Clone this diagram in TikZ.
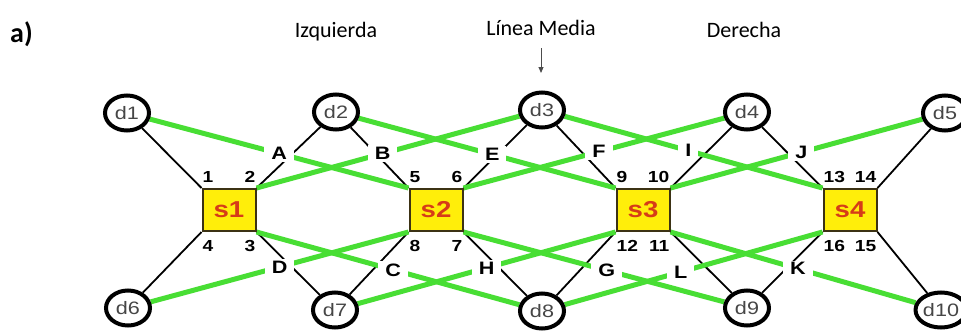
\documentclass[tikz,border=0pt]{standalone}
\usepackage{fontspec}
\setmainfont{Carlito}
\newfontfamily\lab[FakeStretch=1.2]{Liberation Sans}
\usetikzlibrary{shapes.geometric,arrows.meta,backgrounds}
\definecolor{gline}{RGB}{72,222,52}
\definecolor{boxfill}{RGB}{255,238,10}
\definecolor{sred}{RGB}{214,60,24}
\definecolor{dtext}{RGB}{70,70,70}
\tikzset{
  dnode/.style={ellipse,draw=black,line width=4pt,fill=white,minimum width=44pt,minimum height=35pt,inner sep=0pt,font=\lab\fontsize{18}{18}\selectfont,text=dtext},
  snode/.style={rectangle,draw={rgb,255:red,60;green,50;blue,20},line width=2pt,fill=boxfill,minimum width=53pt,minimum height=42pt,inner sep=0pt,font=\lab\bfseries\fontsize{23}{23}\selectfont,text=sred},
  bline/.style={black,line width=1.8pt},
  gl/.style={gline,line width=5pt},
  lbl/.style={fill=white,inner xsep=7pt,inner ysep=2pt,text=black,font=\lab\bfseries\fontsize{18}{18}\selectfont},
  num/.style={inner sep=0pt,font=\lab\bfseries\fontsize{16}{16}\selectfont},
  head/.style={font=\fontsize{22}{22}\selectfont,anchor=base}
}
\begin{document}
\begin{tikzpicture}[x=1pt,y=-1pt]
\begin{scope}[on background layer]
\fill[white] (0,0) rectangle (961,332);
\end{scope}
\useasboundingbox (0,0) rectangle (961,332);
% titles
\node[font=\bfseries\fontsize{28}{28}\selectfont,anchor=base west,inner sep=0pt] (ta) at (10,42) {a)};
\node[head] (t1) at (336,37) {Izquierda};
\node[head] (t2) at (541,35) {Línea Media};
\node[head] (t3) at (744,37) {Derecha};
\coordinate (ar1) at (541,48);
\coordinate (ar2) at (541,73);
\draw[line width=1pt,black!70,-{Triangle[length=6pt,width=5pt]}] (ar1) -- (ar2);
% nodes
\node[dnode] (d1) at (127,113) {d1};
\node[dnode] (d2) at (336,112) {d2};
\node[dnode] (d3) at (542,110) {d3};
\node[dnode] (d4) at (747,112) {d4};
\node[dnode] (d5) at (945,113) {d5};
\node[dnode] (d6) at (128,308) {d6};
\node[dnode] (d7) at (335,310) {d7};
\node[dnode] (d8) at (542,311) {d8};
\node[dnode] (d9) at (747,308) {d9};
\node[dnode] (d10) at (941,310) {d10};
\node[snode] (s1) at (229,210) {s1};
\node[snode] (s2) at (436,210) {s2};
\node[snode] (s3) at (643,210) {s3};
\node[snode] (s4) at (850,210) {s4};
\begin{scope}[on background layer]
% black lines
\draw[bline] (d1) -- (s1.north west);
\draw[bline] (d6) -- (s1.south west);
\draw[bline] (s1.north east) -- (d2);
\draw[bline] (s1.south east) -- (d7);
\draw[bline] (d2) -- (s2.north west);
\draw[bline] (d7) -- (s2.south west);
\draw[bline] (s2.north east) -- (d3);
\draw[bline] (s2.south east) -- (d8);
\draw[bline] (d3) -- (s3.north west);
\draw[bline] (d8) -- (s3.south west);
\draw[bline] (s3.north east) -- (d4);
\draw[bline] (s3.south east) -- (d9);
\draw[bline] (d4) -- (s4.north west);
\draw[bline] (d9) -- (s4.south west);
\draw[bline] (s4.north east) -- (d5);
\draw[bline] (s4.south east) -- (d10);
% green lines
\draw[gl] (d1) -- node[lbl] (A) {A} (s2.north west);
\draw[gl] (s1.north east) -- node[lbl,pos=0.48] (B) {B} (d3);
\draw[gl] (d2) -- node[lbl,pos=0.52] (E) {E} (s3.north west);
\draw[gl] (s2.north east) -- node[lbl,pos=0.52] (F) {F} (d4);
\draw[gl] (d3) -- node[lbl,pos=0.48] (I) {I} (s4.north west);
\draw[gl] (s3.north east) -- node[lbl,pos=0.52] (J) {J} (d5);
\draw[gl] (d6) -- node[lbl,pos=0.5] (D) {D} (s2.south west);
\draw[gl] (s1.south east) -- node[lbl,pos=0.52] (C) {C} (d8);
\draw[gl] (d7) -- node[lbl,pos=0.5] (H) {H} (s3.south west);
\draw[gl] (s2.south east) -- node[lbl,pos=0.55] (G) {G} (d9);
\draw[gl] (d8) -- node[lbl,pos=0.45] (L) {L} (s4.south west);
\draw[gl] (s3.south east) -- node[lbl,pos=0.52] (K) {K} (d10);
\end{scope}
% port numbers
\node[num,anchor=south west,yshift=5pt,xshift=1pt] (n1) at (s1.north west) {1};
\node[num,anchor=south east,yshift=5pt,xshift=-1pt] (n2) at (s1.north east) {2};
\node[num,anchor=north east,yshift=-8pt,xshift=-1pt] (n3) at (s1.south east) {3};
\node[num,anchor=north west,yshift=-8pt,xshift=1pt] (n4) at (s1.south west) {4};
\node[num,anchor=south west,yshift=5pt,xshift=1pt] (n5) at (s2.north west) {5};
\node[num,anchor=south east,yshift=5pt,xshift=-1pt] (n6) at (s2.north east) {6};
\node[num,anchor=north east,yshift=-8pt,xshift=-1pt] (n7) at (s2.south east) {7};
\node[num,anchor=north west,yshift=-8pt,xshift=1pt] (n8) at (s2.south west) {8};
\node[num,anchor=south west,yshift=5pt,xshift=1pt] (n9) at (s3.north west) {9};
\node[num,anchor=south east,yshift=5pt,xshift=-1pt] (n10) at (s3.north east) {10};
\node[num,anchor=north east,yshift=-8pt,xshift=-1pt] (n11) at (s3.south east) {11};
\node[num,anchor=north west,yshift=-8pt,xshift=1pt] (n12) at (s3.south west) {12};
\node[num,anchor=south west,yshift=5pt,xshift=1pt] (n13) at (s4.north west) {13};
\node[num,anchor=south east,yshift=5pt,xshift=-1pt] (n14) at (s4.north east) {14};
\node[num,anchor=north east,yshift=-8pt,xshift=-1pt] (n15) at (s4.south east) {15};
\node[num,anchor=north west,yshift=-8pt,xshift=1pt] (n16) at (s4.south west) {16};
\end{tikzpicture}
\end{document}
